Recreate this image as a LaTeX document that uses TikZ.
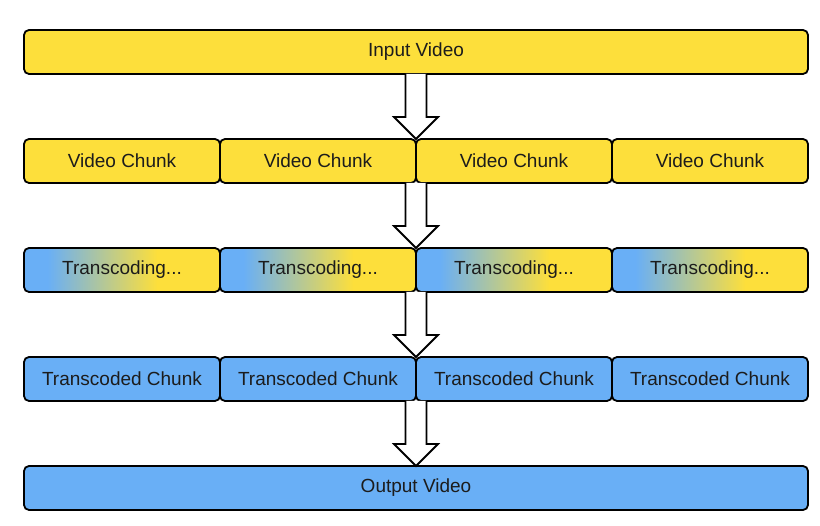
\documentclass[tikz,border=0pt]{standalone}
\usepackage{fontspec}
\setmainfont{Liberation Sans}
\usetikzlibrary{positioning,calc}
\definecolor{chunkyellow}{HTML}{FDDF3B}
\definecolor{chunkblue}{HTML}{69AFF6}
\definecolor{textgray}{HTML}{1C1C1C}
\pgfdeclarehorizontalshading{transgrad}{100bp}{color(0bp)=(chunkblue); color(31bp)=(chunkblue); color(59bp)=(chunkyellow); color(100bp)=(chunkyellow)}
\tikzstyle{box} = [rectangle, rounded corners=5pt, draw=black, line width=1.8pt, outer sep=0pt, minimum height=44pt, minimum width=196pt, text=textgray, font=\fontsize{19}{22}\selectfont]
\tikzstyle{video} = [box, fill=chunkyellow]
\tikzstyle{trans} = [box, shading=transgrad]
\tikzstyle{done} = [box, fill=chunkblue]
\tikzstyle{hollow} = [draw=black, fill=white, line width=1.8pt, line join=miter]
\newcommand{\blockarrow}[2]{%
  \draw [hollow] ($(#1)+(-10.5,0)$) -- ($(#2)+(-10.5,22)$) -- ($(#2)+(-22,22)$) -- (#2)
    -- ($(#2)+(22,22)$) -- ($(#2)+(10.5,22)$) -- ($(#1)+(10.5,0)$);}

\begin{document}
\begin{tikzpicture}[x=1pt, y=1pt, node distance=65pt]
    \useasboundingbox (0,0) rectangle (820,-526);

    \node (in) [video, minimum width=784pt] at (416,-52) {Input Video};

    \node (vc1) [video, below=of in.south west, anchor=north west] {Video Chunk};
    \node (vc2) [video, right=0pt of vc1] {Video Chunk};
    \node (vc3) [video, right=0pt of vc2] {Video Chunk};
    \node (vc4) [video, right=0pt of vc3] {Video Chunk};

    \node (tc1) [trans, below=of vc1] {Transcoding...};
    \node (tc2) [trans, right=0pt of tc1] {Transcoding...};
    \node (tc3) [trans, right=0pt of tc2] {Transcoding...};
    \node (tc4) [trans, right=0pt of tc3] {Transcoding...};

    \node (td1) [done, below=of tc1] {Transcoded Chunk};
    \node (td2) [done, right=0pt of td1] {Transcoded Chunk};
    \node (td3) [done, right=0pt of td2] {Transcoded Chunk};
    \node (td4) [done, right=0pt of td3] {Transcoded Chunk};

    \node (out) [done, minimum width=784pt, below=of td1.south west, anchor=north west] {Output Video};

    \blockarrow{in.south}{vc2.north east}
    \blockarrow{vc2.south east}{tc2.north east}
    \blockarrow{tc2.south east}{td2.north east}
    \blockarrow{td2.south east}{out.north}
\end{tikzpicture}
\end{document}
